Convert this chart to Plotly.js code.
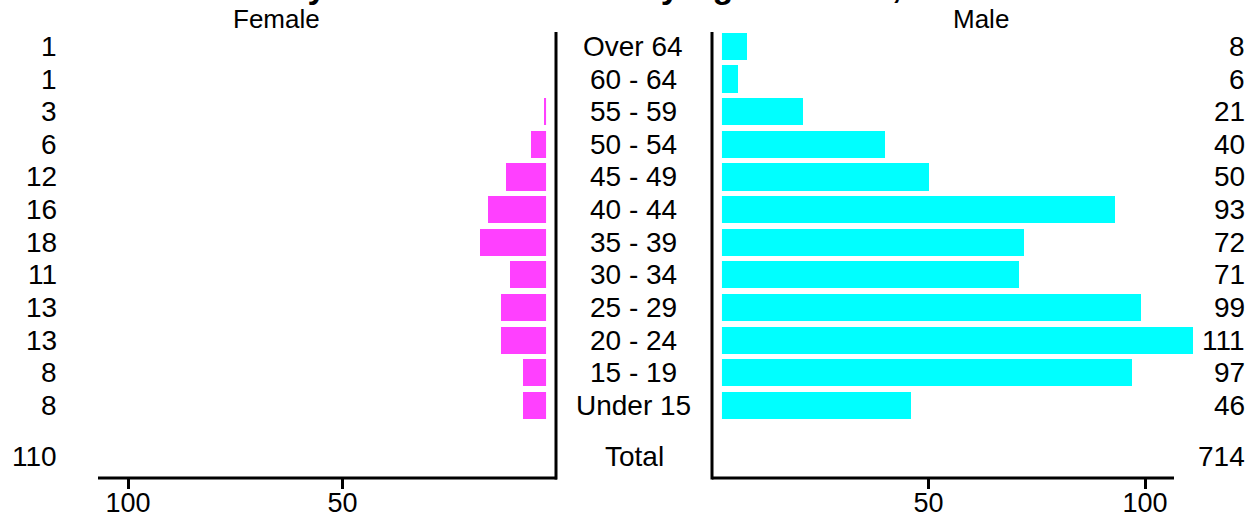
<!DOCTYPE html>
<html>
<head>
<meta charset="utf-8">
<script src="https://cdn.plot.ly/plotly-3.0.1.min.js"></script>
<style>html,body{margin:0;padding:0;background:#fff;}#chart{width:1254px;height:519px;}</style>
</head>
<body>
<div id="chart"></div>
<script>
const ageGroups = ["Over 64","60 - 64","55 - 59","50 - 54","45 - 49","40 - 44","35 - 39","30 - 34","25 - 29","20 - 24","15 - 19","Under 15"];
const female = [1,1,3,6,12,16,18,11,13,13,8,8];
const male = [8,6,21,40,50,93,72,71,99,111,97,46];
const tickVals = [50,100];
const totalLabel = "Total";

const W = 1254, H = 519;
const px = v => v / W;
const py = v => 1 - v / H;
const FONT = "Liberation Sans, Arial, sans-serif";

const n = ageGroups.length;
const yPos = ageGroups.map((_, i) => n - i); // Over 64 at top
const totalY = -0.55;
const femaleTotal = female.reduce((a, b) => a + b, 0);
const maleTotal = male.reduce((a, b) => a + b, 0);

const traces = [
  {type:'bar', orientation:'h', x:female, y:yPos, xaxis:'x', yaxis:'y', width:0.83,
   marker:{color:'#ff40ff', line:{width:0}}, hoverinfo:'x+y', showlegend:false},
  {type:'bar', orientation:'h', x:male, y:yPos, xaxis:'x2', yaxis:'y2', width:0.83,
   marker:{color:'#00ffff', line:{width:0}}, hoverinfo:'x+y', showlegend:false}
];

const yRange = [-1.22, 12.44];
const yDomain = [py(478), py(32)];

const annotations = [];
const base = {showarrow:false, font:{family:FONT, size:28, color:'#000'}};
ageGroups.forEach((g, i) => {
  annotations.push(Object.assign({}, base, {text:g, xref:'paper', yref:'y', x:px(633), y:yPos[i], xanchor:'center', yanchor:'middle'}));
  annotations.push(Object.assign({}, base, {text:String(female[i]), xref:'paper', yref:'y', x:px(59), y:yPos[i], xanchor:'right', yanchor:'middle'}));
  annotations.push(Object.assign({}, base, {text:String(male[i]), xref:'paper', yref:'y', x:px(1247), y:yPos[i], xanchor:'right', yanchor:'middle'}));
});
annotations.push(Object.assign({}, base, {text:totalLabel, xref:'paper', yref:'y', x:px(634), y:totalY, xanchor:'center', yanchor:'middle'}));
annotations.push(Object.assign({}, base, {text:String(femaleTotal), xref:'paper', yref:'y', x:px(59), y:totalY, xanchor:'right', yanchor:'middle'}));
annotations.push(Object.assign({}, base, {text:String(maleTotal), xref:'paper', yref:'y', x:px(1247), y:totalY, xanchor:'right', yanchor:'middle'}));
annotations.push(Object.assign({}, base, {text:"Female", font:{family:FONT, size:26, color:'#000'}, xref:'paper', yref:'paper', x:px(276), y:py(19), xanchor:'center', yanchor:'middle'}));
annotations.push(Object.assign({}, base, {text:"Male", font:{family:FONT, size:26, color:'#000'}, xref:'paper', yref:'paper', x:px(981), y:py(19), xanchor:'center', yanchor:'middle'}));
// main title, cut off at the top edge as in the reference (only descenders show)
annotations.push(Object.assign({}, base, {text:"<b>Survey Members Enrolled by Age and Sex, 2016</b>", font:{family:FONT, size:34, color:'#000'}, xref:'paper', yref:'paper', x:px(600), y:py(7), xanchor:'center', yanchor:'bottom'}));

const axisCommon = {showline:false, ticks:'outside', ticklen:10, tickwidth:3, tickcolor:'#000',
  tickvals:tickVals, tickfont:{family:FONT, size:27, color:'#000'}, ticklabelstandoff:-9,
  showgrid:false, zeroline:false, fixedrange:true};
const yCommon = {domain:yDomain, range:yRange, showline:false, showticklabels:false, ticks:'', showgrid:false, zeroline:false, fixedrange:true};

const L0 = 99, L1 = 557, R0 = 712, R1 = 1174, RX = 1200;
const leftScale = 4.29, rightScale = 4.33;
const BOT = 478, TOP = 32;

const layout = {
  width:W, height:H, margin:{l:0, r:0, t:0, b:0},
  paper_bgcolor:'#fff', plot_bgcolor:'rgba(0,0,0,0)',
  showlegend:false, bargap:0,
  xaxis:Object.assign({}, axisCommon, {domain:[px(L0), px(L1)], range:[(L1 - L0) / leftScale, 0], anchor:'y'}),
  xaxis2:Object.assign({}, axisCommon, {domain:[px(R0), px(RX)], range:[0, (RX - R0) / rightScale], anchor:'y2'}),
  yaxis:Object.assign({}, yCommon, {anchor:'x'}),
  yaxis2:Object.assign({}, yCommon, {anchor:'x2'}),
  shapes:[
    // white gap between axis lines and bar starts
    {type:'rect', xref:'x', yref:'y', x0:-0.5, x1:2.55, y0:0, y1:12.6, fillcolor:'#fff', line:{width:0}, layer:'above'},
    {type:'rect', xref:'x2', yref:'y2', x0:-0.5, x1:2.3, y0:0, y1:12.6, fillcolor:'#fff', line:{width:0}, layer:'above'},
    // axis lines
    {type:'line', xref:'paper', yref:'paper', x0:px(L0 - 1), x1:px(L1), y0:py(BOT), y1:py(BOT), line:{color:'#000', width:3}, layer:'above'},
    {type:'line', xref:'paper', yref:'paper', x0:px(L1 - 1), x1:px(L1 - 1), y0:py(BOT + 1.5), y1:py(TOP), line:{color:'#000', width:3}, layer:'above'},
    {type:'line', xref:'paper', yref:'paper', x0:px(R0), x1:px(R1), y0:py(BOT), y1:py(BOT), line:{color:'#000', width:3}, layer:'above'},
    {type:'line', xref:'paper', yref:'paper', x0:px(R0), x1:px(R0), y0:py(BOT + 1.5), y1:py(TOP), line:{color:'#000', width:3}, layer:'above'}
  ],
  annotations:annotations
};

Plotly.newPlot('chart', traces, layout, {displayModeBar:false, staticPlot:true});
</script>
</body>
</html>
